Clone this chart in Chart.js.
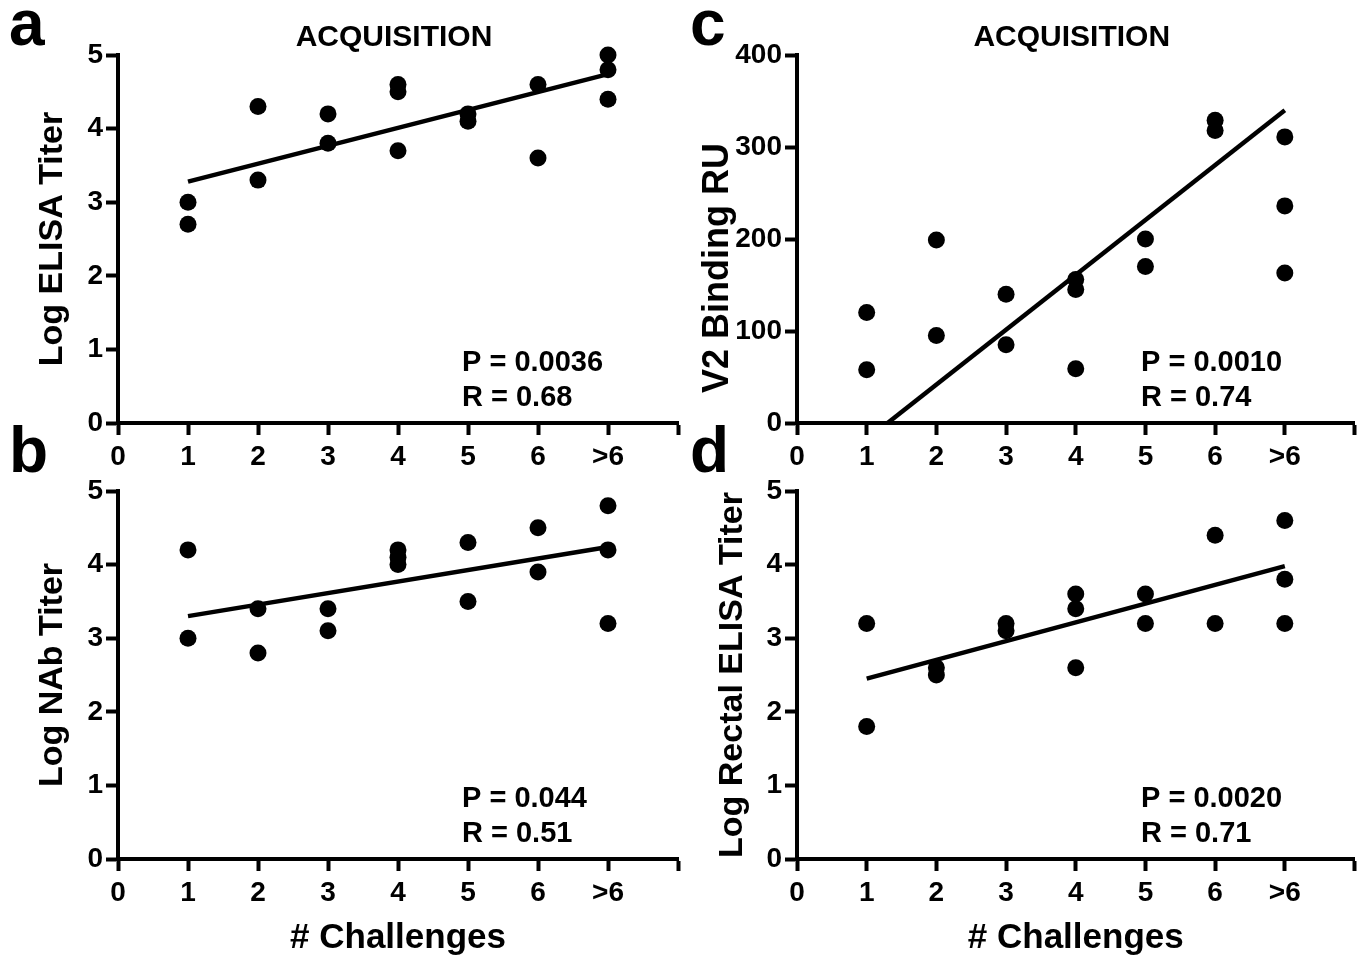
<!DOCTYPE html>
<html>
<head>
<meta charset="utf-8">
<script src="https://cdn.jsdelivr.net/npm/chart.js@4.4.1/dist/chart.umd.min.js"></script>
<style>
  body { margin: 0; background: #fff; width: 1363px; height: 960px; position: relative; overflow: hidden; }
  canvas { position: absolute; }
</style>
</head>
<body>
<canvas id="chartA" width="690" height="480" style="left:0;top:0"></canvas>
<canvas id="chartC" width="683" height="480" style="left:680px;top:0"></canvas>
<canvas id="chartB" width="690" height="560" style="left:0;top:400px"></canvas>
<canvas id="chartD" width="683" height="560" style="left:680px;top:400px"></canvas>
<script>
// x axis: number of challenges (8 is only the axis end, no label)
const challengeTicks = ['0', '1', '2', '3', '4', '5', '6', '>6', ''];

// a - serum ELISA
const elisaX = [1, 1, 2, 2, 3, 3, 4, 4, 4, 5, 5, 6, 6, 7, 7, 7];
const elisaY = [3.0, 2.7, 4.3, 3.3, 4.2, 3.8, 4.6, 4.5, 3.7, 4.2, 4.1, 4.6, 3.6, 5.0, 4.8, 4.4];
const elisaFitX = [1, 7];
const elisaFitY = [3.28, 4.74];

// b - neutralizing antibody
const nabX = [1, 1, 2, 2, 3, 3, 4, 4, 4, 5, 5, 6, 6, 7, 7, 7];
const nabY = [4.2, 3.0, 3.4, 2.8, 3.4, 3.1, 4.2, 4.1, 4.0, 4.3, 3.5, 4.5, 3.9, 4.8, 4.2, 3.2];
const nabFitX = [1, 7];
const nabFitY = [3.30, 4.24];

// c - V2 binding
const v2X = [1, 1, 2, 2, 3, 3, 4, 4, 4, 5, 5, 6, 6, 7, 7, 7];
const v2Y = [120, 58, 199, 95, 140, 85, 156, 145, 59, 200, 170, 329, 318, 311, 236, 163];
const v2FitX = [1.3, 7];
const v2FitY = [0, 340];

// d - rectal ELISA
const rectalX = [1, 1, 2, 2, 3, 3, 4, 4, 4, 5, 5, 6, 6, 7, 7, 7];
const rectalY = [3.2, 1.8, 2.6, 2.5, 3.2, 3.1, 3.6, 3.4, 2.6, 3.6, 3.2, 4.4, 3.2, 4.6, 3.8, 3.2];
const rectalFitX = [1, 7];
const rectalFitY = [2.45, 3.98];

const FONT = '"Liberation Sans", Arial, Helvetica, sans-serif';

function toPoints(xs, ys) {
    return xs.map((x, i) => ({ x: x, y: ys[i] }));
}

// letters, titles and stats text
const panelText = {
    id: 'panelText',
    afterDraw(chart, args, opts) {
        const { ctx, chartArea } = chart;
        ctx.save();
        ctx.fillStyle = '#000';
        ctx.textBaseline = 'alphabetic';
        ctx.textAlign = 'left';
        ctx.font = 'bold 64px ' + FONT;
        ctx.fillText(opts.letter, opts.letterX, opts.letterY);

        if (opts.title) {
            ctx.font = 'bold 30px ' + FONT;
            ctx.textAlign = 'center';
            ctx.fillText(opts.title, (chartArea.left + chartArea.right) / 2 - 4, chartArea.top - 9);
        }

        ctx.textAlign = 'left';
        ctx.font = 'bold 29px ' + FONT;
        ctx.fillText(opts.stats[0], chartArea.left + 344, chartArea.bottom - 52);
        ctx.fillText(opts.stats[1], chartArea.left + 344, chartArea.bottom - 17);

        // hand-placed y title (panel c sits lower than centre)
        if (opts.yLabel) {
            ctx.translate(opts.yLabel.x, chartArea.top + opts.yLabel.dy);
            ctx.rotate(-Math.PI / 2);
            ctx.textAlign = 'center';
            ctx.textBaseline = 'middle';
            ctx.font = 'bold ' + opts.yLabel.size + 'px ' + FONT;
            ctx.fillText(opts.yLabel.text, 0, 0);
        }
        ctx.restore();
    }
};

function makePanel(id, cfg) {
    const ctx = document.getElementById(id);
    new Chart(ctx, {
        type: 'scatter',
        data: {
            datasets: [{
                type: 'line',
                data: toPoints(cfg.fitX, cfg.fitY),
                borderColor: '#000',
                borderWidth: 4.5,
                pointRadius: 0,
                fill: false
            }, {
                data: toPoints(cfg.xs, cfg.ys),
                backgroundColor: '#000',
                borderColor: '#000',
                pointRadius: 8.5,
                pointBorderWidth: 0,
                clip: false
            }]
        },
        options: {
            responsive: false,
            animation: false,
            layout: {
                padding: { top: cfg.padTop, right: cfg.padRight, left: 0, bottom: 0 }
            },
            plugins: {
                legend: { display: false },
                tooltip: { enabled: false },
                panelText: cfg.text
            },
            scales: {
                x: {
                    type: 'linear',
                    min: 0,
                    max: 8,
                    ticks: {
                        stepSize: 1,
                        autoSkip: false,
                        maxRotation: 0,
                        padding: 5,
                        color: '#000',
                        font: { family: FONT, size: 28, weight: 'bold' },
                        callback: function (value) {
                            return challengeTicks[value];
                        }
                    },
                    grid: {
                        drawOnChartArea: false,
                        drawTicks: true,
                        tickLength: 12,
                        tickWidth: 4,
                        tickColor: '#000'
                    },
                    border: { display: true, width: 4, color: '#000' },
                    title: {
                        display: !!cfg.xTitle,
                        text: cfg.xTitle || '',
                        color: '#000',
                        font: { family: FONT, size: 35, weight: 'bold' },
                        padding: { top: 0, bottom: 1 }
                    },
                    afterFit: function (scale) {
                        scale.height = cfg.xHeight;
                    }
                },
                y: {
                    min: 0,
                    max: cfg.yMax,
                    ticks: {
                        stepSize: cfg.yStep,
                        padding: 3,
                        color: '#000',
                        font: { family: FONT, size: 28, weight: 'bold' }
                    },
                    grid: {
                        drawOnChartArea: false,
                        drawTicks: true,
                        tickLength: 12,
                        tickWidth: 4,
                        tickColor: '#000'
                    },
                    border: { display: true, width: 4, color: '#000' },
                    title: {
                        display: !!cfg.yTitle,
                        text: cfg.yTitle || '',
                        color: '#000',
                        font: { family: FONT, size: 34, weight: 'bold' },
                        padding: { top: 32, bottom: 0 }
                    },
                    afterFit: function (scale) {
                        scale.width = cfg.yWidth;
                    }
                }
            }
        },
        plugins: [panelText]
    });
}

makePanel('chartA', {
    xs: elisaX, ys: elisaY, fitX: elisaFitX, fitY: elisaFitY,
    yMax: 5, yStep: 1, yTitle: 'Log ELISA Titer',
    yWidth: 118, xHeight: 57, padTop: 55, padRight: 12,
    text: { letter: 'a', letterX: 9, letterY: 45, title: 'ACQUISITION', stats: ['P = 0.0036', 'R = 0.68'] }
});

makePanel('chartC', {
    xs: v2X, ys: v2Y, fitX: v2FitX, fitY: v2FitY,
    yMax: 400, yStep: 100,
    yWidth: 117, xHeight: 57, padTop: 55, padRight: 6,
    text: {
        letter: 'c', letterX: 10, letterY: 45, title: 'ACQUISITION', stats: ['P = 0.0010', 'R = 0.74'],
        yLabel: { text: 'V2 Binding RU', x: 38, dy: 213, size: 36 }
    }
});

makePanel('chartB', {
    xs: nabX, ys: nabY, fitX: nabFitX, fitY: nabFitY,
    yMax: 5, yStep: 1, yTitle: 'Log NAb Titer', xTitle: '# Challenges',
    yWidth: 118, xHeight: 101, padTop: 91, padRight: 12,
    text: { letter: 'b', letterX: 9, letterY: 72, stats: ['P = 0.044', 'R = 0.51'] }
});

makePanel('chartD', {
    xs: rectalX, ys: rectalY, fitX: rectalFitX, fitY: rectalFitY,
    yMax: 5, yStep: 1, yTitle: 'Log Rectal ELISA Titer', xTitle: '# Challenges',
    yWidth: 117, xHeight: 101, padTop: 91, padRight: 6,
    text: { letter: 'd', letterX: 10, letterY: 72, stats: ['P = 0.0020', 'R = 0.71'] }
});
</script>
</body>
</html>
